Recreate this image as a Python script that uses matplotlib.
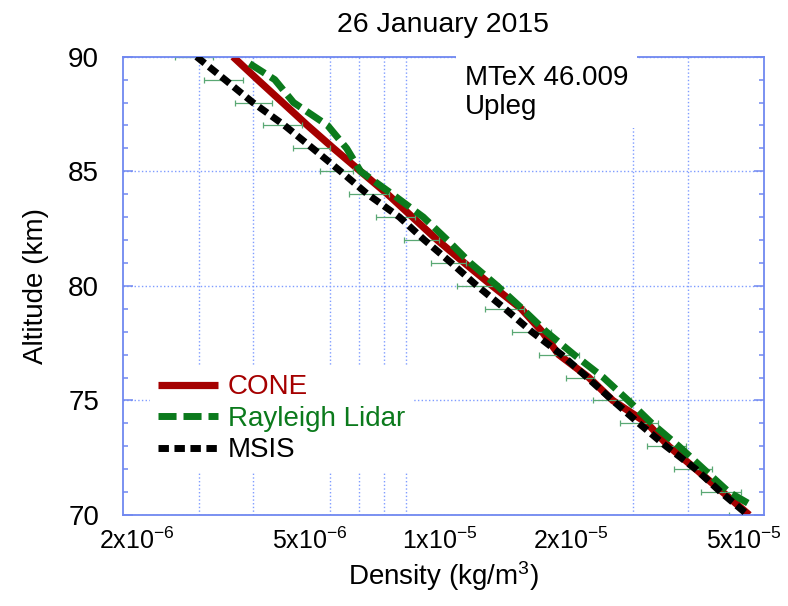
import matplotlib
matplotlib.use("Agg")
import matplotlib.pyplot as plt
from matplotlib.ticker import FixedLocator, FixedFormatter, MultipleLocator, NullFormatter
from matplotlib.transforms import ScaledTranslation

plt.rcParams['font.family'] = ['Liberation Sans', 'DejaVu Sans']
plt.rcParams['mathtext.fontset'] = 'custom'
plt.rcParams['mathtext.rm'] = 'Liberation Sans'
plt.rcParams['mathtext.it'] = 'Liberation Sans'
plt.rcParams['lines.scale_dashes'] = False

# --- data (altitude km, density kg/m^3) ---
msis_alt = [90, 89, 88, 87, 86, 85, 84, 83, 82, 81, 80, 79, 78, 77, 76, 75, 74, 73, 72, 71, 70]
msis_dens = [2.96e-6, 3.44e-6, 3.99e-6, 4.72e-6, 5.48e-6, 6.35e-6, 7.33e-6, 8.68e-6, 9.91e-6,
             1.143e-5, 1.31e-5, 1.52e-5, 1.75e-5, 2.05e-5, 2.35e-5, 2.69e-5, 3.09e-5, 3.57e-5,
             4.18e-5, 4.77e-5, 5.51e-5]

cone_alt = [90, 89, 88, 87, 86, 85, 84, 83, 82, 81, 80, 79, 78, 77, 76, 75, 74, 73, 72, 71, 70]
cone_dens = [3.59e-6, 4.09e-6, 4.67e-6, 5.33e-6, 6.12e-6, 7.06e-6, 8.15e-6, 9.30e-6, 1.061e-5,
             1.225e-5, 1.42e-5, 1.656e-5, 1.85e-5, 2.02e-5, 2.37e-5, 2.69e-5, 3.23e-5, 3.62e-5,
             4.18e-5, 4.82e-5, 5.55e-5]

lidar_alt = [89.7, 89, 88, 87, 86, 85, 84, 83, 82, 81, 80, 79, 78, 77, 76, 75, 74, 73, 72, 71, 70.5]
lidar_dens = [3.92e-6, 4.48e-6, 4.95e-6, 5.93e-6, 6.56e-6, 7.06e-6, 8.36e-6, 9.85e-6, 1.119e-5,
              1.264e-5, 1.458e-5, 1.665e-5, 1.89e-5, 2.19e-5, 2.56e-5, 2.92e-5, 3.31e-5, 3.82e-5,
              4.36e-5, 4.98e-5, 5.53e-5]

# horizontal error bars on the lidar profile (left / right ends)
err_alt = [90, 89, 88, 87, 86, 85, 84, 83, 82, 81, 80, 79, 78, 77, 76, 75, 74, 73, 72, 71, 70]
err_lo = [2.64e-6, 3.08e-6, 3.62e-6, 4.20e-6, 4.93e-6, 5.71e-6, 6.63e-6, 7.68e-6, 8.87e-6,
          1.028e-5, 1.18e-5, 1.368e-5, 1.578e-5, 1.82e-5, 2.10e-5, 2.42e-5, 2.80e-5, 3.23e-5,
          3.72e-5, 4.29e-5, 4.98e-5]
err_hi = [3.23e-6, 3.78e-6, 4.41e-6, 5.17e-6, 5.99e-6, 6.80e-6, 8.23e-6, 9.45e-6, 1.072e-5,
          1.237e-5, 1.474e-5, 1.682e-5, 1.94e-5, 2.25e-5, 2.44e-5, 2.96e-5, 3.42e-5, 3.97e-5,
          4.55e-5, 5.31e-5, 6.15e-5]

xtick_vals = [2e-6, 5e-6, 1e-5, 2e-5, 5e-5]
xtick_labels = [r'2x10$^{-6}$', r'5x10$^{-6}$', r'1x10$^{-5}$', r'2x10$^{-5}$', r'5x10$^{-5}$']
xgrid_vals = [3e-6, 4e-6, 5e-6, 6e-6, 7e-6, 8e-6, 9e-6, 1e-5, 2e-5, 3e-5, 4e-5, 5e-5]

axis_blue = '#7088f0'
grid_blue = '#7f9cff'
red = '#a50000'
green = '#0b7a1c'
err_green = '#5aa874'

fig = plt.figure(figsize=(7.88, 6.06), dpi=100)
ax = fig.add_axes([0.1557, 0.1502, 0.8138, 0.7562])

# error bars: centre at log-midpoint
err_mid = [(lo * hi) ** 0.5 for lo, hi in zip(err_lo, err_hi)]
xerr = [[m - lo for m, lo in zip(err_mid, err_lo)], [hi - m for m, hi in zip(err_mid, err_hi)]]
ax.errorbar(err_mid, err_alt, xerr=xerr, fmt='none', ecolor=err_green, elinewidth=0.9,
            capsize=2.3, capthick=0.9, zorder=2.5)

ax.plot(cone_dens, cone_alt, color=red, lw=5.2, solid_capstyle='butt', label='CONE', zorder=2)
ax.plot(lidar_dens, lidar_alt, color=green, lw=5.0, linestyle=(0, (13, 5)),
        dash_capstyle='butt', label='Rayleigh Lidar', zorder=3)
ax.plot(msis_dens, msis_alt, color='black', lw=5.0, linestyle=(0, (7.5, 4)),
        dash_capstyle='butt', label='MSIS', zorder=4)

ax.set_xscale('log')
ax.set_xlim(2e-6, 6e-5)
ax.set_ylim(70, 90)

ax.xaxis.set_major_locator(FixedLocator(xtick_vals))
ax.xaxis.set_major_formatter(FixedFormatter(xtick_labels))
ax.xaxis.set_minor_locator(FixedLocator(xgrid_vals))
ax.xaxis.set_minor_formatter(NullFormatter())
ax.tick_params(axis='x', which='both', length=0, labelsize=18, pad=9)
for lab in ax.get_xticklabels():
    lab.set_transform(lab.get_transform() + ScaledTranslation(0.14, 0, fig.dpi_scale_trans))

ax.yaxis.set_major_locator(MultipleLocator(5))
ax.yaxis.set_minor_locator(MultipleLocator(1))
ax.tick_params(axis='y', which='major', direction='in', length=7, width=1.1, color=axis_blue,
               left=True, right=True, labelsize=20, pad=17)
ax.tick_params(axis='y', which='minor', direction='in', length=3.5, width=1.1, color=axis_blue,
               left=True, right=True)

ax.grid(True, which='minor', axis='x', color=grid_blue, linestyle=':', lw=1.0)
ax.grid(True, which='major', axis='y', color=grid_blue, linestyle=':', lw=1.0)
ax.set_axisbelow(True)

for sp in ax.spines.values():
    sp.set_color(axis_blue)
    sp.set_linewidth(1.3)

ax.set_xlabel(r'Density (kg/m$^3$)', fontsize=20, labelpad=4)
ax.set_ylabel('Altitude (km)', fontsize=20, labelpad=14)
ax.set_title('26 January 2015', fontsize=20.5, pad=18)

ax.text(0.5335, 0.983, 'MTeX 46.009\nUpleg', transform=ax.transAxes, fontsize=20,
        va='top', ha='left', linespacing=1.15, zorder=3.5,
        bbox=dict(facecolor='white', edgecolor='none', pad=6))

leg = ax.legend(loc='upper left', bbox_to_anchor=(0.042, 0.325), borderaxespad=0,
                fontsize=20, frameon=True, fancybox=False, handlelength=2.16,
                handletextpad=0.36, labelspacing=0.2, borderpad=0.3, labelcolor='linecolor')
leg.get_frame().set_facecolor('white')
leg.get_frame().set_edgecolor('none')
leg.get_frame().set_alpha(1.0)
leg.set_zorder(5)

fig.savefig('out.png', dpi=100)
